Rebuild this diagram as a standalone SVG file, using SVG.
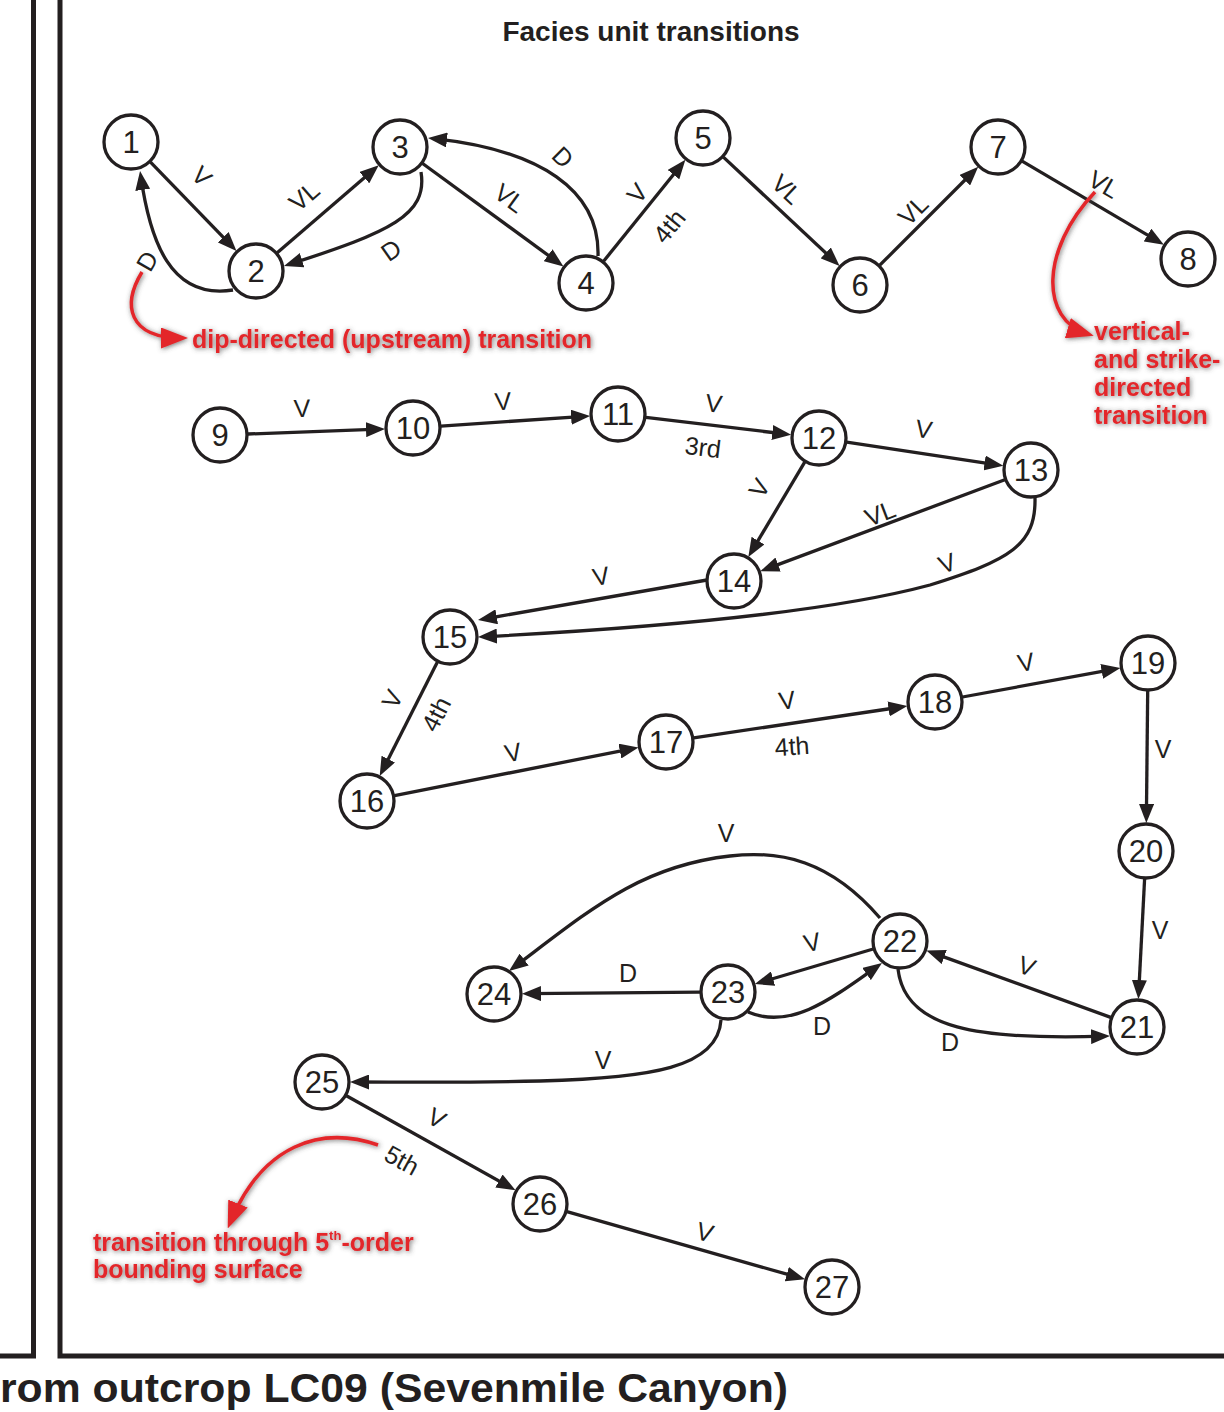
<svg xmlns="http://www.w3.org/2000/svg" width="1224" height="1412" viewBox="0 0 1224 1412">
<defs>
<style>
.node circle{fill:#fff;stroke:#231f20;stroke-width:3.3}
.node text{font-family:"Liberation Sans",Arial,sans-serif;font-size:31px;fill:#231f20;text-anchor:middle}
.e{fill:none;stroke:#231f20;stroke-width:3.3;marker-end:url(#ah)}
.lbl{font-family:"Liberation Sans",Arial,sans-serif;font-size:25px;fill:#231f20;text-anchor:middle;dominant-baseline:central}
.red{fill:none;stroke:#e3262b;stroke-width:3.5;marker-end:url(#rah)}
.rt{font-family:"Liberation Sans",Arial,sans-serif;font-weight:bold;font-size:25px;fill:#e3262b}
.border{fill:none;stroke:#231f20;stroke-width:5}
</style>
<marker id="ah" viewBox="0 0 19 15" refX="13" refY="7.5" markerWidth="19" markerHeight="15" markerUnits="userSpaceOnUse" orient="auto"><path d="M0,0 L19,7.5 L0,15 z" fill="#231f20"/></marker>
<marker id="rah" viewBox="0 0 27 21" refX="21" refY="10.5" markerWidth="27" markerHeight="21" markerUnits="userSpaceOnUse" orient="auto"><path d="M0,0 L27,10.5 L0,21 z" fill="#e3262b"/></marker>
<filter id="glow" x="-30%" y="-60%" width="160%" height="220%">
<feGaussianBlur in="SourceAlpha" stdDeviation="2.5" result="b"/>
<feOffset in="b" dx="1" dy="1" result="o"/>
<feFlood flood-color="#444" flood-opacity="0.75"/>
<feComposite in2="o" operator="in" result="s"/>
<feMerge><feMergeNode in="s"/><feMergeNode in="SourceGraphic"/></feMerge>
</filter>
</defs>
<rect width="1224" height="1412" fill="#fff"/>

<g id="frame">
<path class="border" d="M33.5,0 V1356 H0"/>
<path class="border" d="M60,0 V1356 H1224"/>
</g>

<text x="651" y="41" text-anchor="middle" font-family="Liberation Sans,Arial,sans-serif" font-weight="bold" font-size="28" fill="#231f20">Facies unit transitions</text>
<text x="0" y="1402" font-family="Liberation Sans,Arial,sans-serif" font-weight="bold" font-size="41" fill="#231f20" textLength="788" lengthAdjust="spacingAndGlyphs">rom outcrop LC09 (Sevenmile Canyon)</text>

<g id="connectors">
<path class="e" d="M150.5,162.1 L232.3,246.6"/>
<path class="e" d="M233,290 C170,300 150,240 140.9,177"/>
<path class="e" d="M277.2,252.7 L374.2,169.2"/>
<path class="e" d="M421,172 C428,215 390,232 289.7,264.2"/>
<path class="e" d="M422.6,163.5 L558.6,262.9"/>
<path class="e" d="M598,256 C600,190 540,150 434,138.6"/>
<path class="e" d="M603.6,261.2 L681.6,164.5"/>
<path class="e" d="M723.4,157.1 L835.2,261.8"/>
<path class="e" d="M879.8,265.2 L974,171"/>
<path class="e" d="M1022.1,161.2 L1158.7,241.7"/>
<path class="e" d="M248,434 L379,429.2"/>
<path class="e" d="M440.9,426.1 L584.1,416.3"/>
<path class="e" d="M645.8,417.3 L785.2,434"/>
<path class="e" d="M846.7,442.2 L997.4,464.9"/>
<path class="e" d="M804.7,462.1 L751.4,551.8"/>
<path class="e" d="M1004.8,479.8 L765.9,569.1"/>
<path class="e" d="M1035,498 C1036,545 1010,560 930,585 C830,612 650,628 484,636.7"/>
<path class="e" d="M707,580 L483.9,619"/>
<path class="e" d="M437.4,662 L382.4,770.7"/>
<path class="e" d="M394.5,795.6 L632.6,748.6"/>
<path class="e" d="M693.7,737.9 L901.4,707"/>
<path class="e" d="M962.5,697 L1114.5,669.1"/>
<path class="e" d="M1147.7,691 L1146.4,817"/>
<path class="e" d="M1144.6,879 L1138.7,993"/>
<path class="e" d="M1110.7,1017.4 L932,952.6"/>
<path class="e" d="M898,969 C905,1030 980,1040 1104,1036.2"/>
<path class="e" d="M873.2,949 L760.6,982.3"/>
<path class="e" d="M748,1012 C790,1030 830,1000 877.1,966.5"/>
<path class="e" d="M880,918 C830,860 780,850 730,856 C640,866 590,910 513.8,967.4"/>
<path class="e" d="M700,992.2 L528,993.7"/>
<path class="e" d="M721,1020 C718,1068 650,1078 540,1081 C460,1083 400,1082 356,1082"/>
<path class="e" d="M346.4,1095.7 L510.3,1187.4"/>
<path class="e" d="M566.9,1211.6 L799.3,1277.7"/>
</g>

<g id="edge-labels">
<text class="lbl" x="202" y="176" transform="rotate(45 202 176)">V</text>
<text class="lbl" x="147" y="261" transform="rotate(-60 147 261)">D</text>
<text class="lbl" x="304" y="196" transform="rotate(-41 304 196)">VL</text>
<text class="lbl" x="391" y="250" transform="rotate(-35 391 250)">D</text>
<text class="lbl" x="510" y="198" transform="rotate(36 510 198)">VL</text>
<text class="lbl" x="563" y="157" transform="rotate(45 563 157)">D</text>
<text class="lbl" x="637" y="193" transform="rotate(-51 637 193)">V</text>
<text class="lbl" x="669" y="226" transform="rotate(-51 669 226)">4th</text>
<text class="lbl" x="787" y="189" transform="rotate(43 787 189)">VL</text>
<text class="lbl" x="913" y="210" transform="rotate(-45 913 210)">VL</text>
<text class="lbl" x="1104" y="184" transform="rotate(30 1104 184)">VL</text>
<text class="lbl" x="302" y="408" transform="rotate(-2 302 408)">V</text>
<text class="lbl" x="503" y="401" transform="rotate(-4 503 401)">V</text>
<text class="lbl" x="714" y="403" transform="rotate(7 714 403)">V</text>
<text class="lbl" x="703" y="447" transform="rotate(7 703 447)">3rd</text>
<text class="lbl" x="924" y="429" transform="rotate(9 924 429)">V</text>
<text class="lbl" x="759" y="488" transform="rotate(-59 759 488)">V</text>
<text class="lbl" x="880" y="513" transform="rotate(-21 880 513)">VL</text>
<text class="lbl" x="947" y="563" transform="rotate(-20 947 563)">V</text>
<text class="lbl" x="601" y="576" transform="rotate(-10 601 576)">V</text>
<text class="lbl" x="392" y="699" transform="rotate(-63 392 699)">V</text>
<text class="lbl" x="436" y="714" transform="rotate(-63 436 714)">4th</text>
<text class="lbl" x="513" y="752" transform="rotate(-11 513 752)">V</text>
<text class="lbl" x="787" y="700" transform="rotate(-8 787 700)">V</text>
<text class="lbl" x="792" y="746" transform="rotate(-4 792 746)">4th</text>
<text class="lbl" x="1026" y="662" transform="rotate(-10 1026 662)">V</text>
<text class="lbl" x="1163" y="749">V</text>
<text class="lbl" x="1160" y="930">V</text>
<text class="lbl" x="1027" y="966" transform="rotate(20 1027 966)">V</text>
<text class="lbl" x="950" y="1042">D</text>
<text class="lbl" x="812" y="942" transform="rotate(-12 812 942)">V</text>
<text class="lbl" x="822" y="1026">D</text>
<text class="lbl" x="726" y="833">V</text>
<text class="lbl" x="628" y="973">D</text>
<text class="lbl" x="603" y="1060">V</text>
<text class="lbl" x="437" y="1118" transform="rotate(29 437 1118)">V</text>
<text class="lbl" x="402" y="1160" transform="rotate(29 402 1160)">5th</text>
<text class="lbl" x="705" y="1232" transform="rotate(16 705 1232)">V</text>
</g>

<g id="nodes">
<g id="n1" class="node"><circle cx="131" cy="142" r="27"/><text x="131" y="153">1</text></g>
<g id="n2" class="node"><circle cx="256" cy="271" r="27"/><text x="256" y="282">2</text></g>
<g id="n3" class="node"><circle cx="400" cy="147" r="27"/><text x="400" y="158">3</text></g>
<g id="n4" class="node"><circle cx="586" cy="283" r="27"/><text x="586" y="294">4</text></g>
<g id="n5" class="node"><circle cx="703" cy="138" r="27"/><text x="703" y="149">5</text></g>
<g id="n6" class="node"><circle cx="860" cy="285" r="27"/><text x="860" y="296">6</text></g>
<g id="n7" class="node"><circle cx="998" cy="147" r="27"/><text x="998" y="158">7</text></g>
<g id="n8" class="node"><circle cx="1188" cy="259" r="27"/><text x="1188" y="270">8</text></g>
<g id="n9" class="node"><circle cx="220" cy="435" r="27"/><text x="220" y="446">9</text></g>
<g id="n10" class="node"><circle cx="413" cy="428" r="27"/><text x="413" y="439">10</text></g>
<g id="n11" class="node"><circle cx="618" cy="414" r="27"/><text x="618" y="425">11</text></g>
<g id="n12" class="node"><circle cx="819" cy="438" r="27"/><text x="819" y="449">12</text></g>
<g id="n13" class="node"><circle cx="1031" cy="470" r="27"/><text x="1031" y="481">13</text></g>
<g id="n14" class="node"><circle cx="734" cy="581" r="27"/><text x="734" y="592">14</text></g>
<g id="n15" class="node"><circle cx="450" cy="637" r="27"/><text x="450" y="648">15</text></g>
<g id="n16" class="node"><circle cx="367" cy="801" r="27"/><text x="367" y="812">16</text></g>
<g id="n17" class="node"><circle cx="666" cy="742" r="27"/><text x="666" y="753">17</text></g>
<g id="n18" class="node"><circle cx="935" cy="702" r="27"/><text x="935" y="713">18</text></g>
<g id="n19" class="node"><circle cx="1148" cy="663" r="27"/><text x="1148" y="674">19</text></g>
<g id="n20" class="node"><circle cx="1146" cy="851" r="27"/><text x="1146" y="862">20</text></g>
<g id="n21" class="node"><circle cx="1137" cy="1027" r="27"/><text x="1137" y="1038">21</text></g>
<g id="n22" class="node"><circle cx="900" cy="941" r="27"/><text x="900" y="952">22</text></g>
<g id="n23" class="node"><circle cx="728" cy="992" r="27"/><text x="728" y="1003">23</text></g>
<g id="n24" class="node"><circle cx="494" cy="994" r="27"/><text x="494" y="1005">24</text></g>
<g id="n25" class="node"><circle cx="322" cy="1082" r="27"/><text x="322" y="1093">25</text></g>
<g id="n26" class="node"><circle cx="540" cy="1204" r="27"/><text x="540" y="1215">26</text></g>
<g id="n27" class="node"><circle cx="832" cy="1287" r="27"/><text x="832" y="1298">27</text></g>
</g>

<g id="annotations" filter="url(#glow)">
<path class="red" d="M142,272 C122,305 128,338 182,338"/>
<text class="rt" x="192" y="348">dip-directed (upstream) transition</text>
<path class="red" d="M1095,192 C1040,250 1040,320 1088,334"/>
<text class="rt" x="1094" y="340">vertical-</text>
<text class="rt" x="1094" y="368">and strike-</text>
<text class="rt" x="1094" y="396">directed</text>
<text class="rt" x="1094" y="424">transition</text>
<path class="red" d="M378,1145 C320,1125 262,1145 230,1223"/>
<text class="rt" x="93" y="1251">transition through 5<tspan font-size="13" dy="-11">th</tspan><tspan dy="11">-order</tspan></text>
<text class="rt" x="93" y="1278">bounding surface</text>
</g>
</svg>
